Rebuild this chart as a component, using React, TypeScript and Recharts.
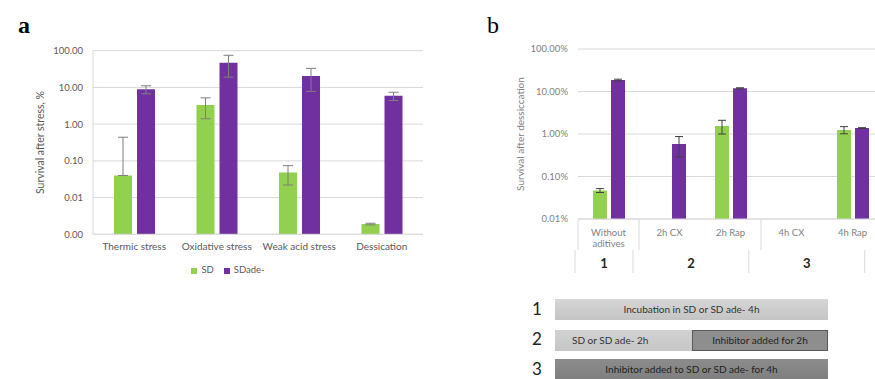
import React from 'react';
import { BarChart, Bar, XAxis, YAxis, CartesianGrid, Legend, ErrorBar } from 'recharts';

// panel a: survival after different stresses (%), log axis
const stressCategories = ['Thermic stress', 'Oxidative stress', 'Weak acid stress', 'Dessication'];
const sdStress = [0.04, 3.3, 0.048, 0.0019];
const sdStressErr = [[0, 0.4], [1.9, 1.9], [0.026, 0.026], [0.0001, 0.0001]];
const adeStress = [8.9, 47, 20.4, 5.9];
const adeStressErr = [[2.2, 2.2], [28, 28], [12.6, 12.6], [1.5, 1.5]];
const stressTicks = [0.001, 0.01, 0.1, 1, 10, 100];

// panel b: survival after dessication with inhibitors
const treatCategories = ['Without aditives', '2h CX', '2h Rap', '4h CX', '4h Rap'];
const treatGroups = ['1', '2', '2', '3', '3'];
const sdTreat = [0.047, null, 1.55, null, 1.25];
const sdTreatErr = [0.005, null, 0.55, null, 0.24];
const adeTreat = [18.6, 0.58, 11.9, null, 1.38];
const adeTreatErr = [0.9, 0.29, 0.35, null, 0.03];
const treatTicks = [0.01, 0.1, 1, 10, 100];

// protocol scheme below panel b
const protocolNumbers = ['1', '2', '3'];
const protocolTexts = [
  ['Incubation in SD or SD ade- 4h'],
  ['SD or SD ade- 2h', 'Inhibitor added for 2h'],
  ['Inhibitor added to SD or SD ade- for 4h'],
];

const GREEN = '#92d050';
const PURPLE = '#7030a0';
const GRID = '#d9d9d9';

const stressData = stressCategories.map((name, i) => ({
  name,
  sd: sdStress[i],
  sdErr: sdStressErr[i],
  ade: adeStress[i],
  adeErr: adeStressErr[i],
}));

const treatData = treatCategories.map((name, i) => ({
  name,
  group: treatGroups[i],
  sd: sdTreat[i],
  sdErr: sdTreatErr[i],
  ade: adeTreat[i],
  adeErr: adeTreatErr[i],
}));

const B_W = 420;
const B_MARGIN = { top: 49, right: 17, left: 35, bottom: 11 };
const B_YW = 63;
const BAND = (B_W - B_MARGIN.left - B_MARGIN.right - B_YW) / treatCategories.length;

const wrap = (s: string) => (s.length > 10 ? s.split(' ') : [s]);

const TreatTick = (props: any) => {
  const { x, y, payload, index } = props;
  const left0 = x - BAND * (index + 0.5);
  const row2 = (pos: number) => pos - 3 - (pos - left0) * 0.05;
  const g = treatGroups[index];
  const isStart = index === 0 || treatGroups[index - 1] !== g;
  let end = index;
  while (end + 1 < treatGroups.length && treatGroups[end + 1] === g) end++;
  const startX = left0 + BAND * index;
  const groupCenter = left0 + BAND * (index + (end - index + 1) / 2);
  const isLast = index === treatCategories.length - 1;
  return (
    <g>
      {wrap(payload.value).map((line, k) => (
        <text key={k} x={x} y={y + 17 + k * 11} textAnchor="middle" fontSize={9.5} fill="#7f7f7f">
          {line}
        </text>
      ))}
      {isStart && (
        <>
          <line x1={startX} x2={startX} y1={y + 1} y2={y + 31} stroke={GRID} />
          <line x1={row2(startX)} x2={row2(startX)} y1={y + 31} y2={y + 54} stroke={GRID} />
          <text x={row2(groupCenter)} y={y + 49} textAnchor="middle" fontSize={13} fontWeight={700} fill="#262626">
            {g}
          </text>
        </>
      )}
      {isLast && (
        <line x1={row2(left0 + BAND * (index + 1))} x2={row2(left0 + BAND * (index + 1))} y1={y + 31} y2={y + 54} stroke={GRID} />
      )}
    </g>
  );
};

const App = () => (
  <div style={{ position: 'absolute', top: 0, left: 0, width: 875, height: 379, overflow: 'hidden', background: '#fff', fontFamily: 'Lato, sans-serif' }}>
    <div style={{ position: 'absolute', left: 18, top: 13, fontFamily: '"Liberation Serif", serif', fontWeight: 700, fontSize: 24, lineHeight: 1 }}>a</div>
    <div style={{ position: 'absolute', left: 487, top: 13, fontFamily: '"Liberation Serif", serif', fontSize: 24, lineHeight: 1 }}>b</div>

    <div style={{ position: 'absolute', left: 0, top: 0 }}>
      <BarChart width={440} height={290} data={stressData} margin={{ top: 50.7, right: 17, left: 35, bottom: 25.7 }} barSize={18} barGap={5}>
        <CartesianGrid vertical={false} stroke={GRID} />
        <XAxis dataKey="name" interval={0} tickLine={false} tickSize={0} tickMargin={9} axisLine={{ stroke: GRID }} tick={{ fontSize: 10, fill: '#595959' }} />
        <YAxis
          scale="log"
          domain={[0.001, 100]}
          ticks={stressTicks}
          allowDataOverflow
          width={58}
          tickLine={false}
          tickSize={0}
          tickMargin={10}
          axisLine={{ stroke: GRID }}
          tick={{ fontSize: 9.5, fill: '#595959' }}
          tickFormatter={(v: number) => v.toFixed(2)}
          label={{ value: 'Survival after stress, %', angle: -90, position: 'insideLeft', offset: 5, style: { textAnchor: 'middle', fontSize: 10.5, fill: '#595959' } }}
        />
        <Legend
          verticalAlign="middle"
          align="center"
          layout="horizontal"
          iconType="square"
          iconSize={6}
          wrapperStyle={{ top: 264, left: 173, width: 120, fontSize: 9.5, whiteSpace: 'nowrap' }}
          formatter={(v: string) => <span style={{ color: '#595959' }}>{v}</span>}
        />
        <Bar dataKey="sd" name="SD" fill={GREEN} isAnimationActive={false}>
          <ErrorBar dataKey="sdErr" width={5} strokeWidth={1} stroke="#7f7f7f" direction="y" isAnimationActive={false} />
        </Bar>
        <Bar dataKey="ade" name="SDade-" fill={PURPLE} isAnimationActive={false}>
          <ErrorBar dataKey="adeErr" width={5} strokeWidth={1} stroke="#7f7f7f" direction="y" isAnimationActive={false} />
        </Bar>
      </BarChart>
    </div>

    <div style={{ position: 'absolute', left: 480, top: 0, width: 395, height: 290, overflow: 'hidden' }}>
      <BarChart width={B_W} height={290} data={treatData} margin={B_MARGIN} barSize={14} barGap={4}>
        <CartesianGrid vertical={false} stroke={GRID} />
        <XAxis dataKey="name" interval={0} height={60} tickLine={false} tickSize={0} tickMargin={0} axisLine={{ stroke: GRID }} tick={<TreatTick />} />
        <YAxis
          scale="log"
          domain={[0.01, 100]}
          ticks={treatTicks}
          allowDataOverflow
          width={B_YW}
          axisLine={false}
          tickLine={false}
          tickSize={0}
          tickMargin={10}
          tick={{ fontSize: 9.5, fill: '#7f7f7f' }}
          tickFormatter={(v: number) => `${v.toFixed(2)}%`}
          label={{ value: 'Survival after dessiccation', angle: -90, position: 'insideLeft', offset: 5, style: { textAnchor: 'middle', fontSize: 10, fill: '#7f7f7f' } }}
        />
        <Bar dataKey="sd" name="SD" fill={GREEN} isAnimationActive={false}>
          <ErrorBar dataKey="sdErr" width={4} strokeWidth={1} stroke="#404040" direction="y" isAnimationActive={false} />
        </Bar>
        <Bar dataKey="ade" name="SDade-" fill={PURPLE} isAnimationActive={false}>
          <ErrorBar dataKey="adeErr" width={4} strokeWidth={1} stroke="#404040" direction="y" isAnimationActive={false} />
        </Bar>
      </BarChart>
    </div>

    {protocolNumbers.map((n, i) => (
      <div key={n} style={{ position: 'absolute', left: 532, top: 298 + i * 30, fontSize: 17, lineHeight: '22px', color: '#222' }}>{n}</div>
    ))}
    <div style={{ position: 'absolute', left: 555, top: 299, width: 273, height: 21, background: 'linear-gradient(#d6d6d6, #c4c4c4)', fontSize: 10, lineHeight: '21px', textAlign: 'center', color: '#333' }}>
      {protocolTexts[0][0]}
    </div>
    <div style={{ position: 'absolute', left: 555, top: 330, width: 137, height: 21, background: 'linear-gradient(#d2d2d2, #c6c6c6)', fontSize: 10, lineHeight: '21px', paddingLeft: 17, boxSizing: 'border-box', color: '#333' }}>
      {protocolTexts[1][0]}
    </div>
    <div style={{ position: 'absolute', left: 692, top: 330, width: 136, height: 21, background: '#8e8e8e', border: '1px solid #5a5a5a', boxSizing: 'border-box', fontSize: 10, lineHeight: '19px', textAlign: 'center', color: '#222' }}>
      {protocolTexts[1][1]}
    </div>
    <div style={{ position: 'absolute', left: 555, top: 359, width: 273, height: 22, background: 'linear-gradient(#8c8c8c, #7e7e7e)', fontSize: 10, lineHeight: '20px', textAlign: 'center', color: '#222' }}>
      {protocolTexts[2][0]}
    </div>
  </div>
);

export default App;
